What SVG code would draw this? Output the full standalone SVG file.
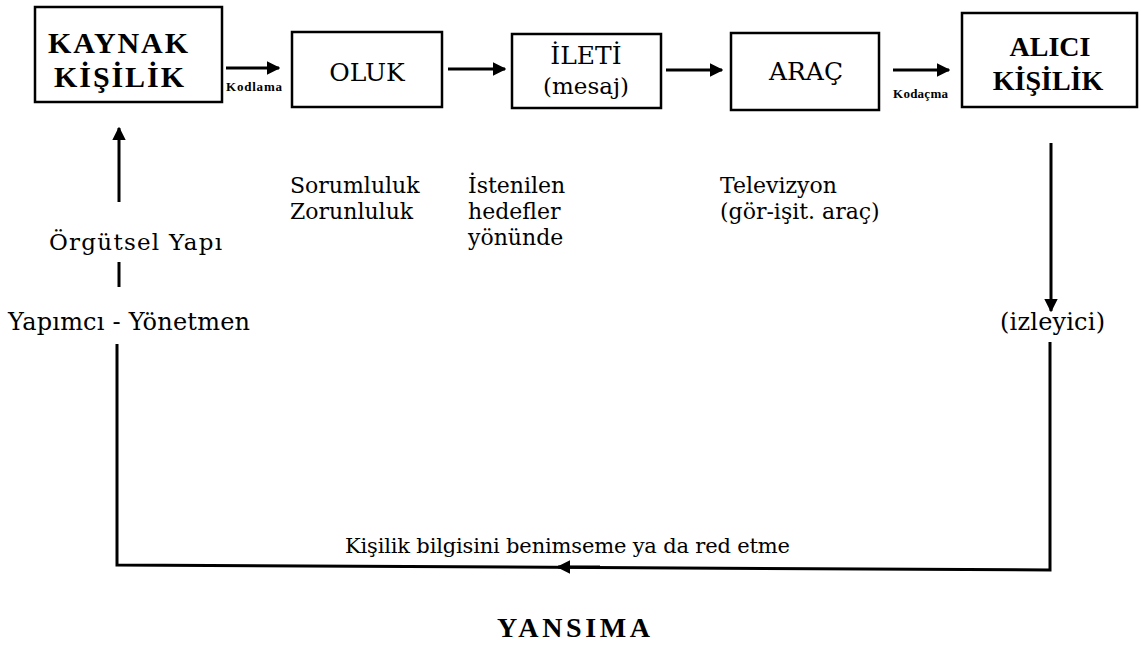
<svg xmlns="http://www.w3.org/2000/svg" width="1141" height="653" viewBox="0 0 1141 653">
<style>
.box{fill:#fff;stroke:#000;stroke-width:2.5}
.t{font-family:"DejaVu Serif","Liberation Serif",serif;fill:#000}
.r{font-size:22px}
.bx{font-size:25px}
.hb{font-family:"Liberation Serif","Times New Roman",serif;font-size:30px;font-weight:bold;fill:#000}
.sm{font-family:"Liberation Serif","Times New Roman",serif;font-size:13px;font-weight:bold;fill:#000}
.ln{fill:none;stroke:#000;stroke-width:3}
</style>
<defs>
<marker id="ah" viewBox="0 0 10 10" refX="9" refY="5" markerWidth="4.5" markerHeight="4.5" orient="auto" markerUnits="strokeWidth">
<path d="M0,0 L10,5 L0,10 Z" fill="#000"/>
</marker>
</defs>
<rect width="1141" height="653" fill="#fff"/>
<g id="kaynak">
<rect class="box" x="35" y="7" width="187" height="95"/>
<text class="hb" x="48" y="53" textLength="140">KAYNAK</text>
<text class="hb" x="54" y="87" textLength="130">KİŞİLİK</text>
</g>
<g id="oluk">
<rect class="box" x="292" y="32" width="150" height="75"/>
<text class="t bx" x="367" y="81" text-anchor="middle">OLUK</text>
</g>
<g id="ileti">
<rect class="box" x="512" y="34" width="149" height="74"/>
<text class="t bx" x="586" y="64" text-anchor="middle">İLETİ</text>
<text class="t" style="font-size:23px" x="586" y="94" text-anchor="middle">(mesaj)</text>
</g>
<g id="arac">
<rect class="box" x="731" y="33" width="148" height="77"/>
<text class="t bx" x="806" y="80" text-anchor="middle">ARAÇ</text>
</g>
<g id="alici">
<rect class="box" x="962" y="13" width="175" height="94"/>
<text class="hb" style="font-size:28px" x="1050" y="56" text-anchor="middle">ALICI</text>
<text class="hb" style="font-size:28px" x="1048" y="90" text-anchor="middle">KİŞİLİK</text>
</g>
<g id="connectors">
<line class="ln" x1="226" y1="68" x2="279" y2="68" marker-end="url(#ah)"/>
<line class="ln" x1="448" y1="69" x2="505" y2="69" marker-end="url(#ah)"/>
<line class="ln" x1="666" y1="70" x2="722" y2="70" marker-end="url(#ah)"/>
<line class="ln" x1="893" y1="70" x2="949" y2="70" marker-end="url(#ah)"/>
<line class="ln" x1="119" y1="202" x2="119" y2="128" marker-end="url(#ah)"/>
<line class="ln" x1="119" y1="262" x2="119" y2="287"/>
<line class="ln" x1="1051" y1="143" x2="1051" y2="311" marker-end="url(#ah)"/>
<path class="ln" d="M117,344 L117,565 L1050,570 L1050,342"/>
<line class="ln" x1="600" y1="567" x2="558" y2="567" marker-end="url(#ah)"/>
</g>
<g id="labels">
<text class="sm" x="226" y="91" textLength="56">Kodlama</text>
<text class="sm" x="893" y="98" textLength="55">Kodaçma</text>
<text class="t r" x="290" y="193">Sorumluluk</text>
<text class="t r" x="290" y="219">Zorunluluk</text>
<text class="t r" x="468" y="193">İstenilen</text>
<text class="t r" x="468" y="219">hedefler</text>
<text class="t r" x="468" y="245">yönünde</text>
<text class="t r" x="720" y="193">Televizyon</text>
<text class="t r" x="720" y="219">(gör-işit. araç)</text>
<text class="t" style="font-size:23px" x="49" y="250" textLength="173">Örgütsel Yapı</text>
<text class="t" style="font-size:24px" x="8" y="330" textLength="242">Yapımcı - Yönetmen</text>
<text class="t" style="font-size:24px" x="1000" y="330" textLength="105">(izleyici)</text>
<text class="t" style="font-size:21px" x="345" y="553" textLength="445">Kişilik bilgisini benimseme ya da red etme</text>
<text class="hb" style="font-size:28px" x="497" y="637" textLength="153">YANSIMA</text>
</g>
</svg>
